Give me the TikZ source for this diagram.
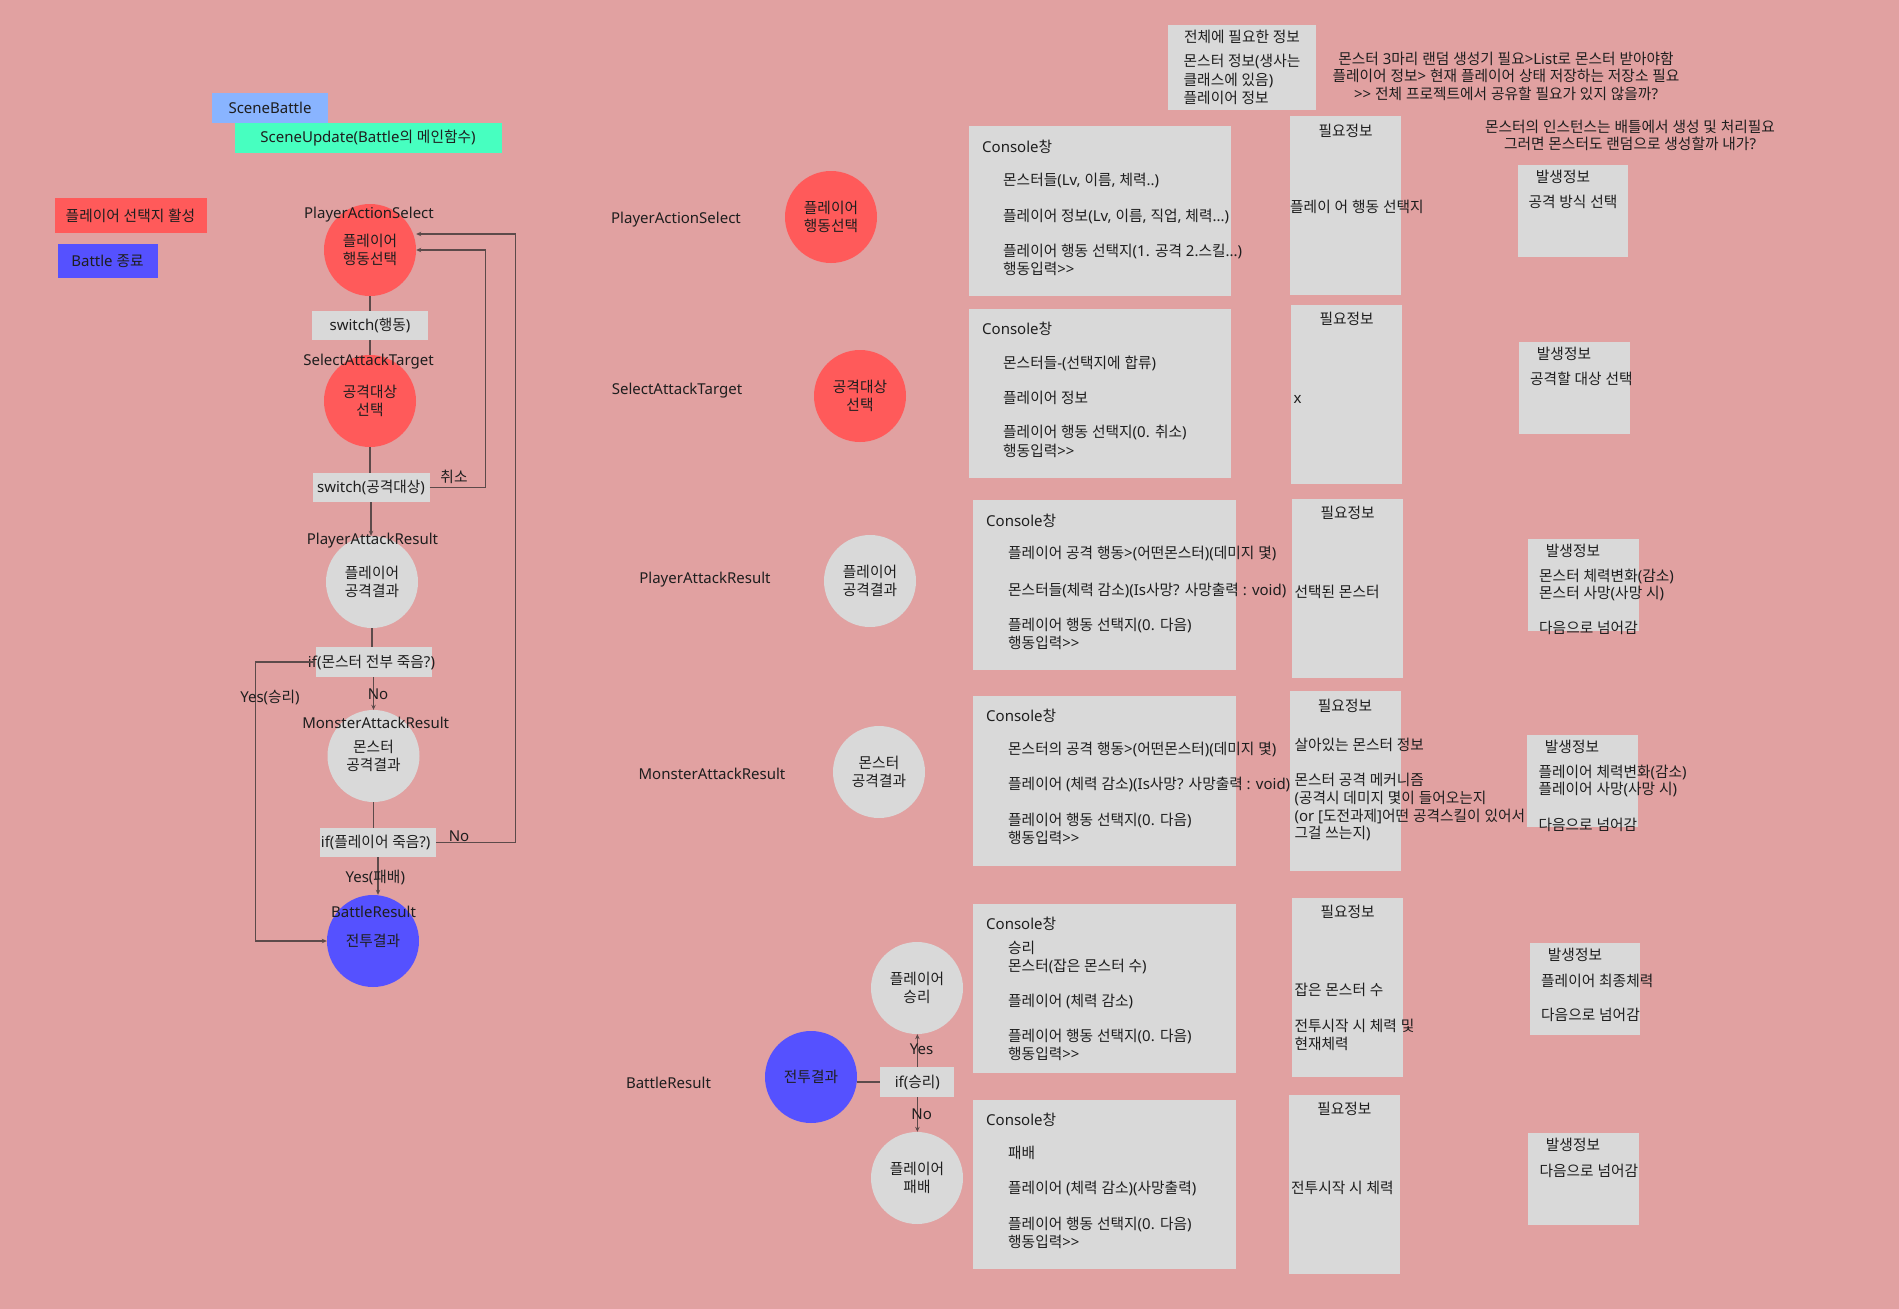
\documentclass[tikz,border=0pt]{standalone}
\usepackage{fontspec}
\usetikzlibrary{arrows.meta,calc}
\setmainfont{Noto Sans}
\newfontfamily\kofont[FakeStretch=0.98]{Noto Sans CJK KR}
\XeTeXinterchartokenstate=1
\chardef\hangulclass=77
\newcount\hgcount
\hgcount="AC00
\loop
  \XeTeXcharclass\hgcount=\hangulclass
  \ifnum\hgcount<"D7A3 \advance\hgcount by 1
\repeat
\XeTeXinterchartoks 0 \hangulclass = {\kofont}
\XeTeXinterchartoks 1 \hangulclass = {\kofont}
\XeTeXinterchartoks 2 \hangulclass = {\kofont}
\XeTeXinterchartoks 3 \hangulclass = {\kofont}
\XeTeXinterchartoks 4095 \hangulclass = {\kofont}
\XeTeXinterchartoks \hangulclass 0 = {\normalfont}
\XeTeXinterchartoks \hangulclass 1 = {\normalfont}
\XeTeXinterchartoks \hangulclass 2 = {\normalfont}
\XeTeXinterchartoks \hangulclass 3 = {\normalfont}
\XeTeXinterchartoks \hangulclass 4095 = {\normalfont}

\definecolor{bgc}{HTML}{E1A1A1}
\definecolor{redc}{HTML}{FF5A5A}
\definecolor{grayc}{HTML}{D9D9D9}
\definecolor{bluec}{HTML}{5551FF}
\definecolor{sbblue}{HTML}{89B4FF}
\definecolor{mintc}{HTML}{47FFC0}
\definecolor{linec}{HTML}{5C4A4A}
\definecolor{txtc}{HTML}{1E1E1E}

\newcommand{\mytext}[4]{\node[anchor=west] (#1) at (#2,#3) {#4};}
\newcommand{\ctext}[4]{\node (#1) at (#2,#3) {#4};}
\newcommand{\rbox}[5]{\node[gbox, anchor=north west, minimum width={(#4-#2)*1pt}, minimum height={(#5-#3)*1pt}] (#1) at (#2,#3) {};}

\begin{document}
\begin{tikzpicture}[x=1pt,y=-1pt,
  every node/.style={font=\fontsize{15}{17.5}\selectfont, text=txtc, inner sep=0pt},
  gbox/.style={fill=grayc, draw=none},
  circ/.style={circle, minimum size=92pt, align=center},
  conn/.style={draw=linec, line width=1.2pt},
  arr/.style={conn, -{Stealth[length=5pt,width=4.5pt]}}]
\fill[bgc] (0,0) rectangle (1899,1309);
\useasboundingbox (0,0) rectangle (1899,1309);

% ---------- legend / header ----------
\node[fill=sbblue, minimum width=116pt, minimum height=30pt] (sb) at (270,108) {SceneBattle};
\node[fill=mintc, minimum width=267pt, minimum height=30pt] (su) at (368,138) {SceneUpdate(Battle의 메인함수)};
\node[fill=redc, minimum width=152pt, minimum height=35pt] (lg1) at (130.5,215.5) {플레이어 선택지 활성};
\node[fill=bluec, minimum width=100pt, minimum height=34pt] (lg2) at (107.5,261) {Battle 종료};

% ---------- left flow ----------
\node[circ, fill=redc] (c1) at (370,250) {플레이어\\행동선택};
\node[gbox, minimum width=116pt, minimum height=29pt] (sw1) at (370,325.5) {switch(행동)};
\node[circ, fill=redc] (c2) at (370,401) {공격대상\\선택};
\node[gbox, minimum width=117pt, minimum height=29pt] (sw2) at (371,487.5) {switch(공격대상)};
\node[circ, fill=grayc] (c3) at (372,582) {플레이어\\공격결과};
\node[gbox, minimum width=116pt, minimum height=30pt] (if1) at (373.5,662) {};
\ctext{if1t}{371.5}{662}{if(몬스터 전부 죽음?)}
\node[circ, fill=grayc] (c4) at (373.5,756) {몬스터\\공격결과};
\node[gbox, minimum width=116pt, minimum height=29pt] (if2) at (378,842.5) {};
\ctext{if2t}{375.7}{842}{if(플레이어 죽음?)}
\node[circ, fill=bluec] (c5) at (373,941) {전투결과};

\ctext{l1}{369}{214.5}{PlayerActionSelect}
\ctext{l2}{368.5}{362}{SelectAttackTarget}
\ctext{l3}{372.5}{541}{PlayerAttackResult}
\ctext{l4}{375.7}{723}{MonsterAttackResult}
\ctext{l5}{373.6}{912}{BattleResult}

\coordinate (r1) at (485.5,487.5);
\coordinate (r2) at (515.5,842.5);
\coordinate (yl) at (255.5,662);
\draw[conn] (c1.south) -- (c1.south |- sw1.north);
\draw[conn] (sw1.south) -- (sw1.south |- c2.north);
\draw[conn] (c2.south) -- (c2.south |- sw2.north);
\draw[arr] (sw2.south) -- (sw2.south |- c3.north);
\draw[conn] (c3.south) -- (c3.south |- if1.north);
\draw[arr] (if1.south) -- (if1.south |- c4.north);
\draw[conn] (c4.south) -- (c4.south |- if2.north);
\draw[arr] (if2.south) -- (if2.south |- c5.north);
\draw[arr] (if1.west) -- (yl) |- (c5.west);
\draw[arr] (sw2.east) -- (r1) |- (c1.east);
\draw[arr] (if2.east) -- (r2) |- ($(c1.east)+(0,-16)$);

\ctext{cancel}{454}{477}{취소}
\ctext{no1}{459}{836}{No}
\ctext{yes1}{270}{697}{Yes(승리)}
\ctext{no2}{378}{694}{No}
\ctext{yes2}{375.3}{877}{Yes(패배)}

% ---------- middle column ----------
\ctext{ml1}{676}{220}{PlayerActionSelect}
\ctext{ml2}{677}{391}{SelectAttackTarget}
\ctext{ml3}{705}{580}{PlayerAttackResult}
\ctext{ml4}{712}{774}{MonsterAttackResult}
\ctext{ml5}{668.5}{1083}{BattleResult}
\node[circ, fill=redc] (m1) at (831,217) {플레이어\\행동선택};
\node[circ, fill=redc] (m2) at (860,396) {공격대상\\선택};
\node[circ, fill=grayc] (m3) at (870,581) {플레이어\\공격결과};
\node[circ, fill=grayc] (m4) at (879,772) {몬스터\\공격결과};
\node[circ, fill=bluec] (m5) at (811,1077) {전투결과};
\node[circ, fill=grayc] (m6) at (917,988) {플레이어\\승리};
\node[circ, fill=grayc] (m7) at (917,1178) {플레이어\\패배};
\node[gbox, minimum width=74pt, minimum height=30pt] (if3) at (917.4,1082) {if(승리)};
\draw[conn] (m5.east |- if3.west) -- (if3.west);
\draw[arr] (if3.north) -- (if3.north |- m6.south);
\draw[arr] (if3.south) -- (if3.south |- m7.north);
\ctext{myes}{921.6}{1049}{Yes}
\ctext{mno}{921.6}{1114}{No}

% ---------- top notes ----------
\rbox{allinfo}{1168}{25}{1316}{110}
\ctext{allt}{1242}{37}{전체에 필요한 정보}
\mytext{alla}{1183.5}{61.7}{몬스터 정보(생사는}
\mytext{allb}{1183.5}{80.7}{클래스에 있음)}
\mytext{allc}{1183.5}{98.3}{플레이어 정보}
\node[align=center] (note1) at (1506,76) {몬스터 3마리 랜덤 생성기 필요>List로 몬스터 받아야함\\플레이어 정보> 현재 플레이어 상태 저장하는 저장소 필요\\>{}> 전체 프로젝트에서 공유할 필요가 있지 않을까?};
\node[align=center] (note2) at (1630,135.3) {몬스터의 인스턴스는 배틀에서 생성 및 처리필요\\그러면 몬스터도 랜덤으로 생성할까 내가?};

% ---------- console boxes ----------
\rbox{con1}{969}{126}{1231}{296}
\mytext{con1t}{982}{146.7}{Console창}
\mytext{con1a}{1003}{180}{몬스터들(Lv, 이름, 체력..)}
\mytext{con1b}{1003}{216}{플레이어 정보(Lv, 이름, 직업, 체력...)}
\mytext{con1c}{1003}{251}{플레이어 행동 선택지(1. 공격 2.스킬...)}
\mytext{con1d}{1003}{269.3}{행동입력>{}>}

\rbox{con2}{969}{309}{1231}{478}
\mytext{con2t}{982}{329.3}{Console창}
\mytext{con2a}{1003}{363.3}{몬스터들-(선택지에 합류)}
\mytext{con2b}{1003}{397.7}{플레이어 정보}
\mytext{con2c}{1003}{432.7}{플레이어 행동 선택지(0. 취소)}
\mytext{con2d}{1003}{451}{행동입력>{}>}

\rbox{con3}{973}{500}{1236}{670}
\mytext{con3t}{986}{520.7}{Console창}
\mytext{con3a}{1008}{553.3}{플레이어 공격 행동>(어떤몬스터)(데미지 몇)}
\mytext{con3b}{1008}{590}{몬스터들(체력 감소)(Is사망? 사망출력 : void)}
\mytext{con3c}{1008}{625}{플레이어 행동 선택지(0. 다음)}
\mytext{con3d}{1008}{642.7}{행동입력>{}>}

\rbox{con4}{973}{696}{1236}{866}
\mytext{con4t}{986}{716}{Console창}
\mytext{con4a}{1008}{749.3}{몬스터의 공격 행동>(어떤몬스터)(데미지 몇)}
\mytext{con4b}{1008}{784.3}{플레이어 (체력 감소)(Is사망? 사망출력 : void)}
\mytext{con4c}{1008}{820}{플레이어 행동 선택지(0. 다음)}
\mytext{con4d}{1008}{837.7}{행동입력>{}>}

\rbox{con5}{973}{904}{1236}{1073}
\mytext{con5t}{986}{924}{Console창}
\mytext{con5a}{1008}{948.3}{승리}
\mytext{con5b}{1008}{966}{몬스터(잡은 몬스터 수)}
\mytext{con5c}{1008}{1001.7}{플레이어 (체력 감소)}
\mytext{con5d}{1008}{1036.7}{플레이어 행동 선택지(0. 다음)}
\mytext{con5e}{1008}{1054.3}{행동입력>{}>}

\rbox{con6}{973}{1100}{1236}{1269}
\mytext{con6t}{986}{1120}{Console창}
\mytext{con6a}{1008}{1152.7}{패배}
\mytext{con6b}{1008}{1188.3}{플레이어 (체력 감소)(사망출력)}
\mytext{con6c}{1008}{1224}{플레이어 행동 선택지(0. 다음)}
\mytext{con6d}{1008}{1241.7}{행동입력>{}>}

% ---------- 필요정보 boxes ----------
\rbox{need1}{1290}{116}{1401}{295}
\ctext{need1t}{1345.7}{130.7}{필요정보}
\mytext{need1a}{1290}{206.7}{플레이 어 행동 선택지}

\rbox{need2}{1291}{305}{1402}{484}
\ctext{need2t}{1346.7}{319.3}{필요정보}
\mytext{need2a}{1293.5}{399}{x}

\rbox{need3}{1292}{499}{1403}{678}
\ctext{need3t}{1347.7}{512.7}{필요정보}
\mytext{need3a}{1294.3}{591.7}{선택된 몬스터}

\rbox{need4}{1290}{691}{1401}{871}
\ctext{need4t}{1345}{705.7}{필요정보}
\mytext{need4a}{1294.3}{745}{살아있는 몬스터 정보}
\mytext{need4b}{1294.3}{780}{몬스터 공격 메커니즘}
\mytext{need4c}{1294.3}{798.3}{(공격시 데미지 몇이 들어오는지}
\mytext{need4d}{1294.3}{816}{(or [도전과제]어떤 공격스킬이 있어서}
\mytext{need4e}{1294.3}{833.3}{그걸 쓰는지)}

\rbox{need5}{1292}{898}{1403}{1077}
\ctext{need5t}{1347.7}{911.7}{필요정보}
\mytext{need5a}{1294.3}{990}{잡은 몬스터 수}
\mytext{need5b}{1294.3}{1026}{전투시작 시 체력 및}
\mytext{need5c}{1294.3}{1044}{현재체력}

\rbox{need6}{1289}{1095}{1400}{1274}
\ctext{need6t}{1344.3}{1109.3}{필요정보}
\mytext{need6a}{1291}{1188.3}{전투시작 시 체력}

% ---------- 발생정보 boxes ----------
\rbox{occ1}{1518}{165}{1628}{257}
\ctext{occ1t}{1563}{177.3}{발생정보}
\mytext{occ1a}{1528.3}{201.7}{공격 방식 선택}

\rbox{occ2}{1519}{342}{1630}{434}
\ctext{occ2t}{1564}{354.3}{발생정보}
\mytext{occ2a}{1530}{379}{공격할 대상 선택}

\rbox{occ3}{1528}{539}{1639}{631}
\ctext{occ3t}{1573}{551}{발생정보}
\mytext{occ3a}{1539}{576}{몬스터 체력변화(감소)}
\mytext{occ3b}{1539}{593.3}{몬스터 사망(사망 시)}
\mytext{occ3c}{1539}{628.3}{다음으로 넘어감}

\rbox{occ4}{1527}{735}{1638}{827}
\ctext{occ4t}{1572}{746.8}{발생정보}
\mytext{occ4a}{1538.3}{772.5}{플레이어 체력변화(감소)}
\mytext{occ4b}{1538.3}{789.3}{플레이어 사망(사망 시)}
\mytext{occ4c}{1538.3}{825}{다음으로 넘어감}

\rbox{occ5}{1530}{943}{1640}{1035}
\ctext{occ5t}{1575}{954.6}{발생정보}
\mytext{occ5a}{1541}{980.4}{플레이어 최종체력}
\mytext{occ5b}{1541}{1015}{다음으로 넘어감}

\rbox{occ6}{1528}{1133}{1639}{1225}
\ctext{occ6t}{1573}{1145}{발생정보}
\mytext{occ6a}{1539.3}{1170.7}{다음으로 넘어감}
\end{tikzpicture}
\end{document}
